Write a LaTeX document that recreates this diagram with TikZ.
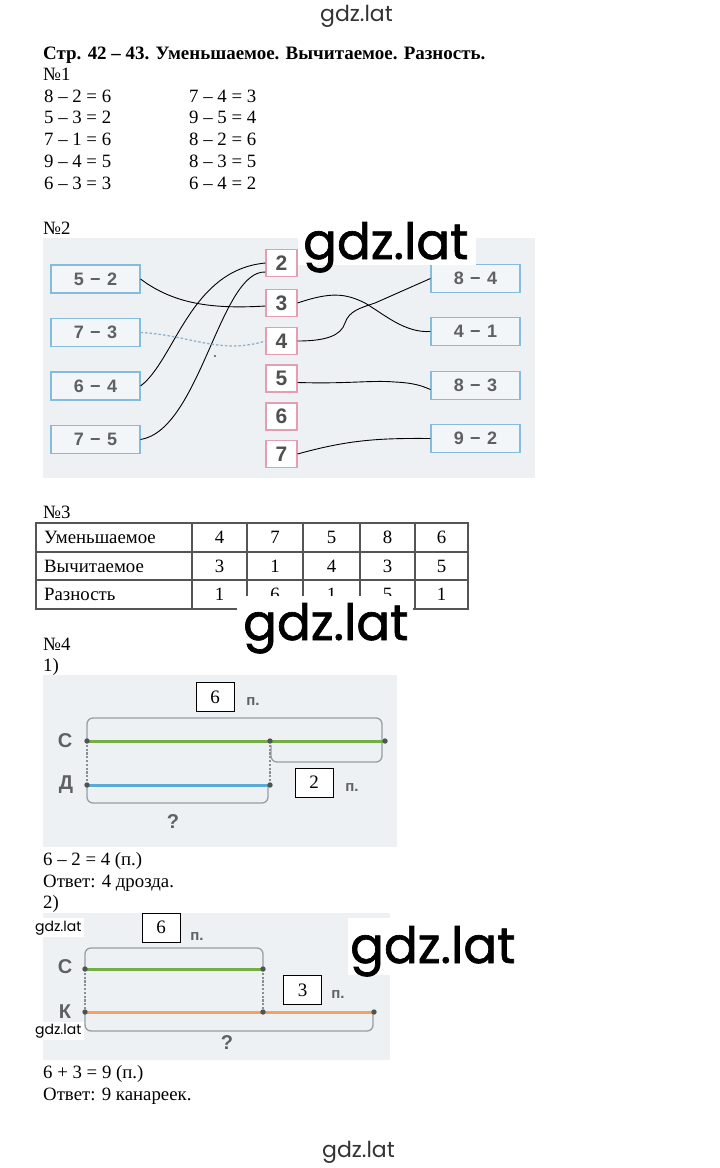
\documentclass[tikz,border=0pt]{standalone}
\usepackage{fontspec}
\setmainfont{Liberation Serif}
\newfontfamily\bsans{Liberation Sans}
\newfontfamily\wm{Poppins}
\newfontfamily\wmb[FakeBold=1.3]{Poppins}
\definecolor{bgscan}{HTML}{EEF1F4}
\definecolor{bluebox}{HTML}{86BCDB}
\definecolor{boxfill}{HTML}{F3F6F8}
\definecolor{pinkbox}{HTML}{E59DB2}
\definecolor{txtgrey}{HTML}{5E6062}
\definecolor{numgrey}{HTML}{4F5052}
\definecolor{dashblue}{HTML}{8FB3CB}
\definecolor{brkgrey}{HTML}{979EA4}
\definecolor{segreen}{HTML}{74AE45}
\definecolor{seblue}{HTML}{5AABD9}
\definecolor{seorange}{HTML}{F2A261}
\definecolor{dotgrey}{HTML}{4E5652}
\definecolor{tabline}{HTML}{555555}
\tikzset{
  txt/.style={anchor=base west, inner sep=0pt, font=\fontsize{18.8}{21}\selectfont},
  ttl/.style={anchor=base west, inner sep=0pt, font=\bfseries\fontsize{18.95}{21}\selectfont},
  cell/.style={anchor=base, inner sep=0pt, font=\fontsize{18.8}{21}\selectfont},
  eqbox/.style={draw=bluebox, fill=boxfill, line width=1.1pt, minimum width=89pt, minimum height=28pt, inner sep=0pt, text=txtgrey, font=\bsans\bfseries\fontsize{18}{18}\selectfont},
  numbox/.style={draw=pinkbox, fill=white, line width=1.1pt, minimum width=31pt, minimum height=27pt, inner sep=0pt, text=numgrey, font=\bsans\bfseries\fontsize{21}{21}\selectfont},
  link/.style={draw=black, line width=0.9pt},
  wmbig/.style={anchor=base west, inner sep=0pt, text=black, font=\wmb\fontsize{50}{50}\selectfont},
  wmsmall/.style={anchor=base west, inner sep=0pt, text=black!80, font=\wm\fontsize{22}{22}\selectfont},
  wmtiny/.style={anchor=base west, inner sep=0pt, text=black, font=\wm\fontsize{14}{14}\selectfont},
  valbox/.style={draw=black, fill=white, line width=0.8pt, minimum width=38pt, minimum height=29pt, inner sep=0pt, font=\fontsize{19}{19}\selectfont},
  pl/.style={inner sep=0pt, text=txtgrey, font=\bsans\bfseries\fontsize{15}{15}\selectfont},
  seglabel/.style={inner sep=0pt, text=txtgrey, font=\bsans\bfseries\fontsize{20}{20}\selectfont},
  brk/.style={draw=brkgrey, line width=1.3pt, rounded corners=6pt},
  dotv/.style={draw=brkgrey!90!black, line width=1.3pt, dash pattern=on 2.2pt off 1.6pt},
  seg/.style={line width=3pt},
  endpt/.style={fill=dotgrey}
}
\newcommand{\mn}[2]{#1\hspace{0.35em}−\hspace{0.35em}#2}
\begin{document}
\begin{tikzpicture}[x=1pt,y=-1pt]
\useasboundingbox (0,0) rectangle (720,1168);
\fill[white] (0,0) rectangle (720,1168);

% ---------- watermark top
\node[wmsmall] (wmtop) at (320,21) {gdz.lat};

% ---------- title and No.1
\node[ttl] (title) at (43,59) {Стр. 42 – 43. Уменьшаемое. Вычитаемое. Разность.};
\node[txt] (n1) at (43,80) {№1};
\node[txt] (e1) at (44,102) {8 – 2 = 6};
\node[txt] (e2) at (44,123.5) {5 – 3 = 2};
\node[txt] (e3) at (44,145.5) {7 – 1 = 6};
\node[txt] (e4) at (44,167) {9 – 4 = 5};
\node[txt] (e5) at (44,189) {6 – 3 = 3};
\node[txt] (f1) at (189,102) {7 – 4 = 3};
\node[txt] (f2) at (189,123.5) {9 – 5 = 4};
\node[txt] (f3) at (189,145.5) {8 – 2 = 6};
\node[txt] (f4) at (189,167) {8 – 3 = 5};
\node[txt] (f5) at (189,189) {6 – 4 = 2};

% ---------- No.2
\node[txt] (n2) at (43,234) {№2};
\fill[bgscan] (43,238) rectangle (535,478);

\node[eqbox] (l52) at (95.5,279) {\mn{5}{2}};
\node[eqbox] (l73) at (95.5,332.5) {\mn{7}{3}};
\node[eqbox] (l64) at (95.5,386) {\mn{6}{4}};
\node[eqbox] (l75) at (95.5,439.5) {\mn{7}{5}};

\node[eqbox] (r84) at (475.5,278.5) {\mn{8}{4}};
\node[eqbox] (r41) at (475.5,331.5) {\mn{4}{1}};
\node[eqbox] (r83) at (475.5,385.5) {\mn{8}{3}};
\node[eqbox] (r92) at (475.5,438.5) {\mn{9}{2}};

\node[numbox] (c2) at (281.5,263) {2};
\node[numbox] (c3) at (281.5,303) {3};
\node[numbox] (c4) at (281.5,341) {4};
\node[numbox] (c5) at (281.5,378.5) {5};
\node[numbox] (c6) at (281.5,416.5) {6};
\node[numbox] (c7) at (281.5,454) {7};

% connectors
\draw[link] (l52.east) .. controls (175,305) and (215,309) .. ([yshift=-3pt]c3.west);
\draw[link] (l64.east) .. controls (175,360) and (190,270) .. (c2.west);
\draw[link] (l75.east) .. controls (200,430) and (220,270) .. ([yshift=-9pt]c2.west);
\draw[draw=dashblue, line width=1.3pt, dash pattern=on 2.5pt off 2pt] (l73.east) .. controls (190,335) and (220,355) .. (c4.west);
\fill[dotgrey] (215,356) circle (1.2);
\draw[link] (c3.east) .. controls (330,292) and (345,293) .. (365,303) .. controls (385,315) and (405,333) .. (r41.west);
\draw[link] (c4.east) .. controls (325,341) and (341,336) .. (345,323) .. controls (349,311) and (360,308) .. (375,303) -- (r84.west);
\draw[link] ([yshift=-4pt]c5.east) .. controls (350,384) and (370,380) .. (395,382) .. controls (415,383) and (422,386) .. ([yshift=-4pt]r83.west);
\draw[link] (c7.east) .. controls (348,440) and (378,438) .. (r92.west);

% watermark No.2
\fill[white] (298,238) rectangle (476,265);
\node[wmbig] (wm2) at (303,259) {\smash{gdz.lat}};

% ---------- No.3 table
\node[txt] (n3) at (43,518) {№3};
\draw[tabline, line width=1.1pt] (36,523) rectangle (468,609);
\foreach \yy in {552,580} \draw[tabline, line width=1.1pt] (36,\yy) -- (468,\yy);
\foreach \xx in {192,247,303,360,415} \draw[tabline, line width=1.1pt] (\xx,523) -- (\xx,609);
\node[txt] (h1) at (44,543.5) {Уменьшаемое};
\node[txt] (h2) at (44,572) {Вычитаемое};
\node[txt] (h3) at (44,600.5) {Разность};
\node[cell] (a1) at (219.5,543.5) {4};
\node[cell] (a2) at (275,543.5) {7};
\node[cell] (a3) at (331.5,543.5) {5};
\node[cell] (a4) at (387.5,543.5) {8};
\node[cell] (a5) at (441.5,543.5) {6};
\node[cell] (b1) at (219.5,572) {3};
\node[cell] (b2) at (275,572) {1};
\node[cell] (b3) at (331.5,572) {4};
\node[cell] (b4) at (387.5,572) {3};
\node[cell] (b5) at (441.5,572) {5};
\node[cell] (d1) at (219.5,600.5) {1};
\node[cell] (d2) at (275,600.5) {6};
\node[cell] (d3) at (331.5,600.5) {1};
\node[cell] (d4) at (387.5,600.5) {5};
\node[cell] (d5) at (441.5,600.5) {1};
\fill[white] (237,596) rectangle (413,660);
\node[wmbig] (wm3) at (243,640) {gdz.lat};

% ---------- No.4
\node[txt] (n4) at (43,650) {№4};
\node[txt] (p1) at (43,671) {1)};
\fill[bgscan] (43,675) rectangle (397,847);

\coordinate (sA) at (87,741);
\coordinate (sB) at (270,741);
\coordinate (sC) at (385,741);
\coordinate (dA) at (87,785);
\coordinate (dB) at (270,785);

\draw[brk] (87,741) -- (87,718) -- (382,718) -- (382,741);
\draw[brk] (271,745) -- (271,762) -- (382,762) -- (382,740);
\draw[brk] (87,785) -- (87,803) -- (268,803) -- (268,785);
\draw[dotv] (sA) -- (dA);
\draw[dotv] (sB) -- (dB);
\draw[seg, segreen] (sA) -- (sC);
\draw[seg, seblue] (dA) -- (dB);
\foreach \pp in {sA,sB,sC,dA,dB} \fill[endpt] (\pp) circle (2.7);

\node[seglabel] (lc1) at (65,741) {С};
\node[seglabel] (ld1) at (66,785) {Д};
\node[seglabel] (q1) at (173,822) {?};
\node[valbox] (v6a) at (215,697) {6};
\node[pl] (pa) at (253,702) {п.};
\node[valbox] (v2) at (314,782.5) {2};
\node[pl] (pb) at (352,788) {п.};

\node[txt] (s1) at (43,865) {6 – 2 = 4 (п.)};
\node[txt] (s2) at (43,887) {Ответ: 4 дрозда.};
\node[txt] (p2) at (43,908) {2)};

% 2)
\fill[bgscan] (43,913) rectangle (390,1060);
\coordinate (tA) at (85,969);
\coordinate (tB) at (263,969);
\coordinate (kA) at (85,1012);
\coordinate (kB) at (263,1012);
\coordinate (kC) at (374,1012);

\draw[brk] (85,969) -- (85,948) -- (263,948) -- (263,969);
\draw[brk] (85,1012) -- (85,1031) -- (373,1031) -- (373,1012);
\draw[dotv] (tA) -- (kA);
\draw[dotv] (tB) -- (kB);
\draw[seg, segreen] (tA) -- (tB);
\draw[seg, seorange] (kA) -- (kC);
\foreach \pp in {tA,tB,kA,kB,kC} \fill[endpt] (\pp) circle (2.7);

\node[seglabel] (lc2) at (65,967) {С};
\node[seglabel] (lk2) at (65,1012) {К};
\node[seglabel] (q2) at (227,1043) {?};
\node[valbox] (v6b) at (161,927.5) {6};
\node[pl] (pc) at (197,937) {п.};
\node[valbox] (v3) at (302.5,990) {3};
\node[pl] (pd) at (338,995) {п.};

% watermarks No.4
\fill[white] (348,918) rectangle (527,975);
\node[wmbig] (wm4) at (350,963) {gdz.lat};
\fill[white] (33,918) rectangle (84,937);
\node[wmtiny] (wm5) at (35,931) {gdz.lat};
\fill[white] (33,1022) rectangle (84,1040);
\node[wmtiny] (wm6) at (35,1034) {gdz.lat};

\node[txt] (s3) at (43,1078) {6 + 3 = 9 (п.)};
\node[txt] (s4) at (43,1100) {Ответ: 9 канареек.};

\node[wmsmall] (wmbot) at (322,1157) {gdz.lat};
\end{tikzpicture}
\end{document}
